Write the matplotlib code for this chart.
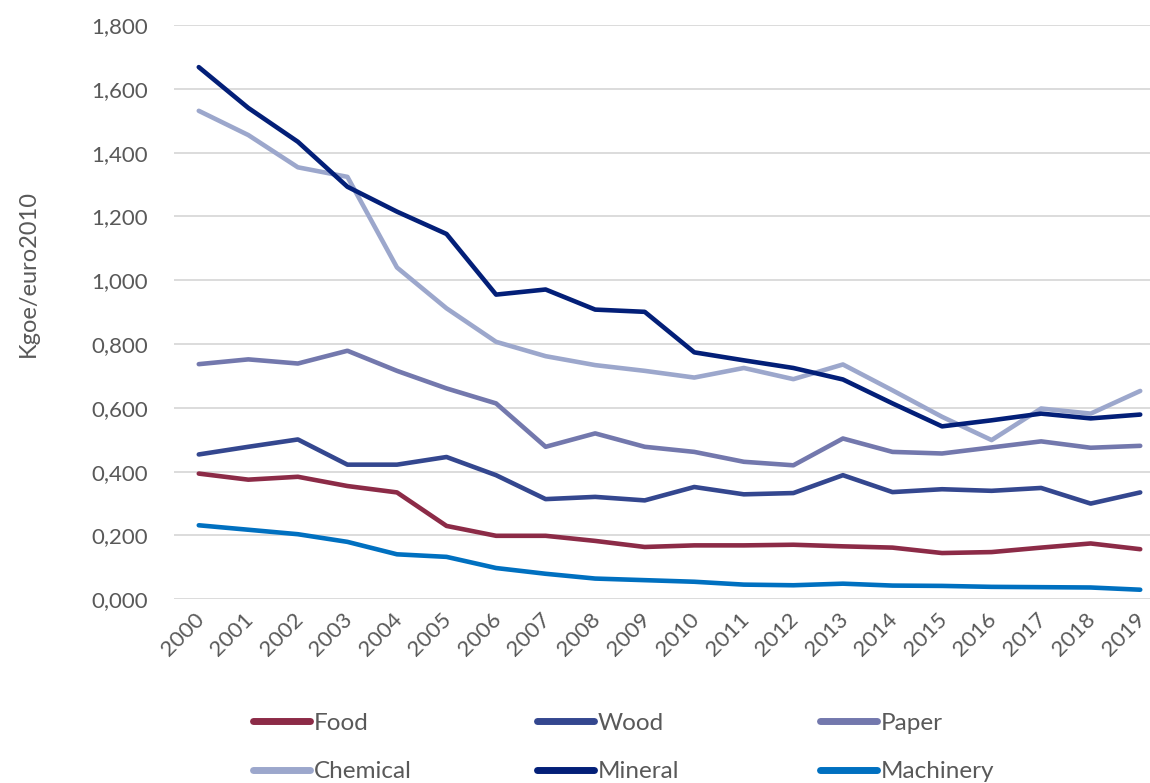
import matplotlib
matplotlib.use("Agg")
import matplotlib.pyplot as plt
from matplotlib.ticker import FuncFormatter, MultipleLocator
from matplotlib.transforms import ScaledTranslation

plt.rcParams['font.family'] = ['Lato', 'DejaVu Sans']

years = [str(y) for y in range(2000, 2020)]

food = [0.394, 0.375, 0.384, 0.355, 0.335, 0.230, 0.199, 0.199, 0.183, 0.164,
        0.169, 0.169, 0.171, 0.166, 0.162, 0.145, 0.148, 0.162, 0.175, 0.157]
wood = [0.454, 0.478, 0.501, 0.422, 0.422, 0.446, 0.389, 0.314, 0.321, 0.310,
        0.352, 0.329, 0.333, 0.389, 0.336, 0.345, 0.340, 0.349, 0.300, 0.335]
paper = [0.737, 0.752, 0.739, 0.779, 0.716, 0.661, 0.614, 0.478, 0.520, 0.478,
         0.462, 0.431, 0.420, 0.504, 0.462, 0.457, 0.476, 0.495, 0.475, 0.481]
chemical = [1.531, 1.455, 1.354, 1.324, 1.040, 0.912, 0.807, 0.762, 0.734, 0.716,
            0.695, 0.725, 0.690, 0.736, 0.655, 0.572, 0.499, 0.598, 0.582, 0.653]
mineral = [1.668, 1.540, 1.434, 1.293, 1.215, 1.145, 0.955, 0.971, 0.908, 0.901,
           0.774, 0.749, 0.725, 0.689, 0.614, 0.542, 0.561, 0.582, 0.567, 0.579]
machinery = [0.232, 0.218, 0.204, 0.180, 0.141, 0.133, 0.098, 0.080, 0.065, 0.060,
             0.055, 0.046, 0.044, 0.049, 0.043, 0.042, 0.039, 0.038, 0.037, 0.030]

series_names = ["Food", "Wood", "Paper", "Chemical", "Mineral", "Machinery"]
series_values = [food, wood, paper, chemical, mineral, machinery]
series_colors = ["#8C2B47", "#34478F", "#7378AD", "#9CA7CC", "#031F78", "#0070C0"]

text_color = "#595959"

fig = plt.figure(figsize=(11.5, 7.83), dpi=100)
ax = fig.add_axes([174 / 1150, 1 - 599.3 / 783, 991 / 1150, 574.3 / 783])

x = list(range(len(years)))
lines = {}
for name, vals, col in zip(series_names, series_values, series_colors):
    ln, = ax.plot(x, vals, color=col, linewidth=3.3, solid_capstyle='round',
                  solid_joinstyle='round', label=name, zorder=3)
    lines[name] = ln

ax.set_xlim(-0.5, len(years) - 0.5)
ax.set_ylim(0, 1.8)
ax.yaxis.set_major_locator(MultipleLocator(0.2))
ax.yaxis.set_major_formatter(FuncFormatter(lambda v, p: f"{v:.3f}".replace('.', ',')))
ax.grid(axis='y', color='#D9D9D9', linewidth=1.3, zorder=0)
ax.set_axisbelow(True)

ax.set_xticks(x)
ax.set_xticklabels(years, rotation=45, ha='right', va='top', rotation_mode='anchor')
ax.tick_params(axis='both', length=0, colors=text_color, labelsize=16)
ax.tick_params(axis='y', pad=18.5)
ax.tick_params(axis='x', pad=7)
shift = ScaledTranslation(-5 / 100, 0, fig.dpi_scale_trans)
for lbl in ax.get_xticklabels():
    lbl.set_transform(lbl.get_transform() + shift)

for s in ax.spines.values():
    s.set_visible(False)

fig.text(28 / 1150, 1 - 273 / 783, "Kgoe/euro2010", rotation=90, color=text_color,
         fontsize=17, ha='center', va='center')

# legend laid out in three columns of two entries
columns = [["Food", "Chemical"], ["Wood", "Mineral"], ["Paper", "Machinery"]]
col_x = [253, 537, 820]
for names, cx in zip(columns, col_x):
    leg = fig.legend([lines[n] for n in names], names, loc='center left',
                     bbox_to_anchor=(cx / 1150, 1 - 747.5 / 783),
                     frameon=False, fontsize=17.5, handlelength=2.35,
                     handletextpad=0.16, borderpad=0, borderaxespad=0,
                     labelspacing=1.14)
    for t in leg.get_texts():
        t.set_color(text_color)
    for h in leg.legend_handles:
        h.set_linewidth(5)
        h.set_solid_capstyle('round')

fig.savefig("out.png", dpi=100)
